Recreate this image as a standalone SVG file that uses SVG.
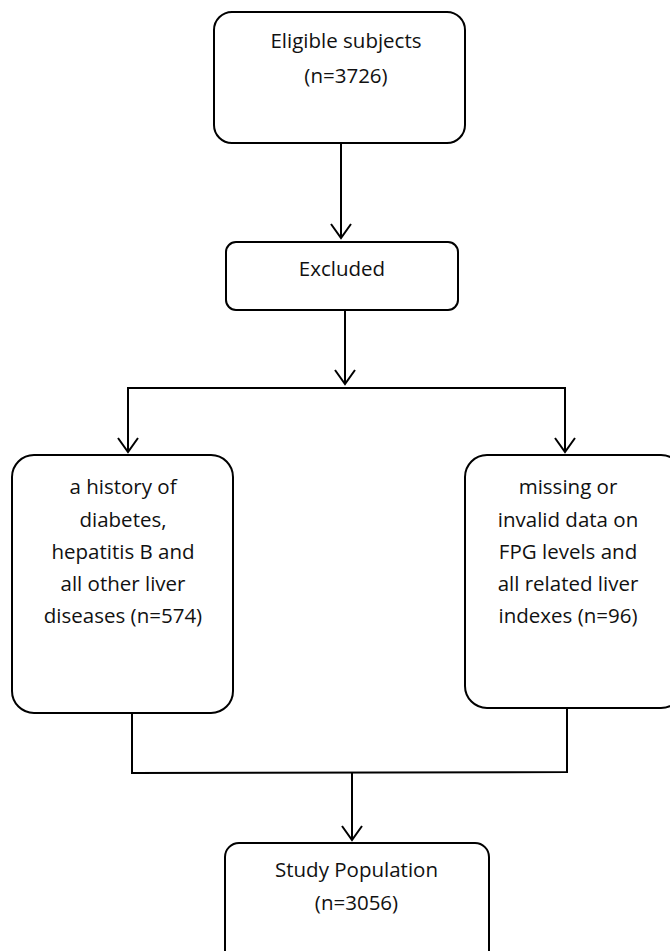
<svg xmlns="http://www.w3.org/2000/svg" width="670" height="951" viewBox="0 0 670 951">
<style>
.box{fill:#fff;stroke:#000;stroke-width:2}
.t{font-family:"Open Sans","Liberation Sans",sans-serif;font-size:20.5px;fill:#111;text-anchor:middle}
.c{fill:none;stroke:#000;stroke-width:2}
</style>
<defs>
<marker id="ah" markerWidth="20" markerHeight="24" refX="17" refY="12" orient="auto" markerUnits="userSpaceOnUse" viewBox="0 0 20 24">
<polyline points="3,2 17,12 3,22" fill="none" stroke="#000" stroke-width="2"/>
</marker>
</defs>
<rect width="670" height="951" fill="#fff"/>
<g id="connectors">
<line class="c" x1="341" y1="143" x2="341" y2="238" marker-end="url(#ah)"/>
<line class="c" x1="345" y1="310" x2="345" y2="384" marker-end="url(#ah)"/>
<line class="c" x1="127" y1="388" x2="566" y2="388"/>
<line class="c" x1="128" y1="388" x2="128" y2="452" marker-end="url(#ah)"/>
<line class="c" x1="565" y1="388" x2="565" y2="452" marker-end="url(#ah)"/>
<polyline class="c" points="132,713 132,773 567,772 567,708"/>
<line class="c" x1="352" y1="773" x2="352" y2="840" marker-end="url(#ah)"/>
</g>
<g id="eligible">
<rect class="box" x="214" y="12" width="251" height="131" rx="18"/>
<text class="t" x="346" y="48">Eligible subjects</text>
<text class="t" x="346" y="83">(n=3726)</text>
</g>
<g id="excluded">
<rect class="box" x="226" y="242" width="232" height="68" rx="10"/>
<text class="t" x="342" y="276">Excluded</text>
</g>
<g id="history">
<rect class="box" x="12" y="455" width="221" height="258" rx="22"/>
<text class="t" x="123" y="494">a history of</text>
<text class="t" x="123" y="526.5">diabetes,</text>
<text class="t" x="123" y="559">hepatitis B and</text>
<text class="t" x="123" y="591">all other liver</text>
<text class="t" x="123" y="623">diseases (n=574)</text>
</g>
<g id="missing">
<rect class="box" x="465" y="455" width="218" height="253" rx="22"/>
<text class="t" x="568" y="494">missing or</text>
<text class="t" x="568" y="526.5">invalid data on</text>
<text class="t" x="568" y="559">FPG levels and</text>
<text class="t" x="568" y="591">all related liver</text>
<text class="t" x="568" y="623">indexes (n=96)</text>
</g>
<g id="study">
<rect class="box" x="225" y="843" width="264" height="130" rx="14"/>
<text class="t" x="356.5" y="877">Study Population</text>
<text class="t" x="356.5" y="910">(n=3056)</text>
</g>
</svg>
